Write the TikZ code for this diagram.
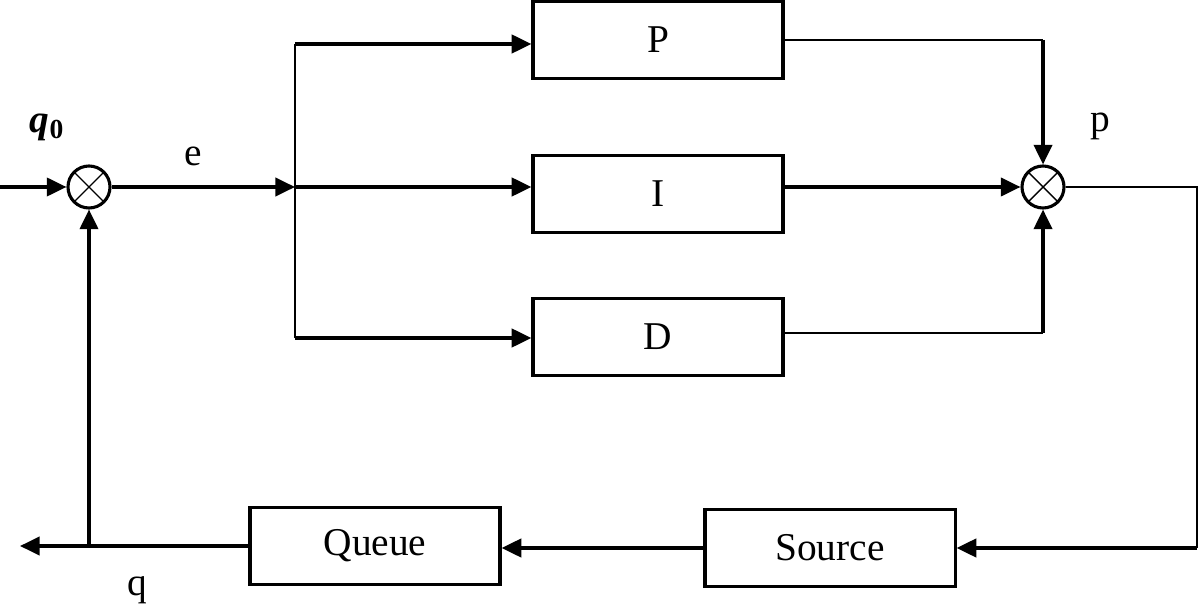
\documentclass[tikz,border=0pt]{standalone}
\usepackage{fontspec}
\setmainfont{Liberation Serif}
\usetikzlibrary{arrows.meta}

\begin{document}
\begin{tikzpicture}[x=0.025cm,y=-0.025cm,>={Triangle[length=14pt,width=13pt]},
    block/.style={draw,line width=2.2pt,minimum width=6.25cm,minimum height=1.93cm,inner sep=0pt,font=\fontsize{28}{34}\selectfont},
    sum node/.style={circle,draw,line width=2.2pt,minimum size=1.05cm,inner sep=0pt,
        path picture={\draw[line width=1pt] (path picture bounding box.north west) -- (path picture bounding box.south east)
                      (path picture bounding box.north east) -- (path picture bounding box.south west);}},
    sig/.style={line width=2.3pt},
    thinsig/.style={line width=1pt},
    lbl/.style={font=\fontsize{28}{34}\selectfont}]

    \useasboundingbox (0,0) rectangle (1200,609);

    \node[sum node] (s1) at (89,187) {};
    \node[sum node] (s2) at (1043,187) {};
    \node[block] (P) at (658,40) {P};
    \node[block] (I) at (658,194) {I};
    \node[block] (D) at (658,337) {D};
    \node[block] (Source) at (830,548) {Source};
    \node[block] (Queue) at (375,546) {Queue};

    \coordinate (in) at (0,187);
    \coordinate (split) at (295,187);
    \coordinate (splitP) at (295,44);
    \coordinate (splitD) at (295,338);
    \coordinate (pc) at (1043,40);
    \coordinate (dc) at (1043,333);
    \coordinate (rc1) at (1197,187);
    \coordinate (rc2) at (1197,548);
    \coordinate (out) at (20,546);
    \coordinate (fb) at (89,546);

    \node[lbl] (q0) at (47,127) {\textbf{\textit{q}}\textsubscript{\textbf{0}}};
    \node[lbl] (e) at (193,156) {e};
    \node[lbl] (p) at (1100,126) {p};
    \node[lbl] (q) at (137,590) {q};

    \draw[sig,->] (in) to (s1);
    \draw[sig,->] (s1) to (split);
    \draw[thinsig] (splitP) to (splitD);
    \draw[sig,->] (splitP) to (P.west |- splitP);
    \draw[sig,->] (split) to (I.west |- split);
    \draw[sig,->] (splitD) to (D.west |- splitD);

    \draw[thinsig] (P.east) to (pc);
    \draw[sig,->] (pc) to (s2);
    \draw[sig,->] (I.east |- s2) to (s2);
    \draw[thinsig] (D.east |- dc) to (dc);
    \draw[sig,->] (dc) to (s2);

    \draw[thinsig] (s2) -- (rc1) -- (rc2);
    \draw[sig,->] (rc2) to (Source.east);
    \draw[sig,->] (Source.west) to (Queue.east |- Source.west);
    \draw[sig,->] (Queue.west) to (out);
    \draw[sig,->] (fb) to (s1);
    % \draw[sig] (q0) to (s1);
\end{tikzpicture}
\end{document}
